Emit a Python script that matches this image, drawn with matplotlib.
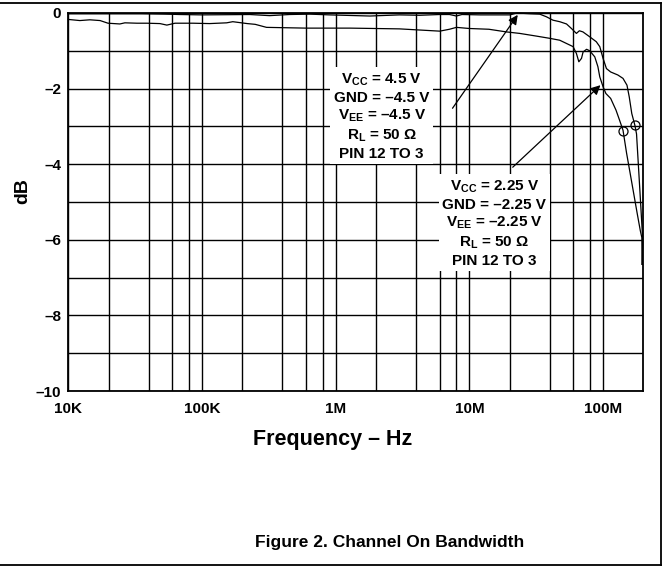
import matplotlib
matplotlib.use("Agg")
import matplotlib.pyplot as plt
from matplotlib.ticker import FixedLocator, MultipleLocator, NullFormatter
from matplotlib.lines import Line2D

# ---------------- data ----------------
freq_45 = [1e4, 2e4, 3.5e4, 5.3e4, 6.8e4, 1e5, 2.28e5, 3.2e5, 4.52e5, 6.38e5, 9e5,
           1.8e6, 3e6, 4.26e6, 6e6, 7.1e6, 8e6, 8.8e6, 1.21e7, 2.01e7, 2.27e7,
           2.85e7, 3.36e7, 3.77e7, 4.22e7, 4.74e7, 5.33e7, 5.8e7, 6.32e7, 6.65e7,
           7.07e7, 7.95e7, 8.9e7, 9.45e7, 1e8, 1.06e8, 1.14e8, 1.29e8, 1.41e8,
           1.51e8, 1.57e8, 1.64e8, 1.73e8, 1.78e8, 1.85e8, 1.92e8, 1.98e8, 1.96e8]
db_45 = [-0.02, -0.02, -0.02, -0.03, -0.04, -0.05, -0.04, -0.07, -0.04, -0.03, -0.05,
         -0.08, -0.05, -0.06, -0.04, -0.04, -0.08, -0.04, -0.05, -0.05, 0.0,
         -0.02, -0.03, -0.1, -0.19, -0.23, -0.29, -0.41, -0.54, -0.47,
         -0.5, -0.63, -0.76, -0.89, -1.2, -1.47, -1.56, -1.64, -1.73,
         -1.91, -2.22, -2.66, -2.97, -3.2, -4.2, -5.17, -6.0, -6.65]

freq_225 = [1e4, 1.22e4, 1.45e4, 1.73e4, 1.98e4, 2.43e4, 2.65e4, 3.26e4, 3.88e4,
            4.85e4, 5.46e4, 6.28e4, 8.56e4, 1.14e5, 1.53e5, 1.7e5, 2.18e5, 2.5e5,
            3.04e5, 6e5, 1.28e6, 3e6, 6e6, 7.1e6, 8e6, 1e7, 1.4e7, 1.89e7, 2.38e7,
            3.16e7, 3.99e7, 4.74e7, 5.97e7, 6.32e7, 6.59e7, 6.9e7, 7.09e7, 7.53e7,
            7.95e7, 8.67e7, 9.15e7, 9.45e7, 1e8, 1.05e8, 1.14e8, 1.25e8, 1.33e8,
            1.41e8, 1.5e8, 1.6e8, 1.7e8, 1.8e8, 1.9e8, 1.95e8, 1.96e8]
db_225 = [-0.17, -0.2, -0.18, -0.2, -0.27, -0.29, -0.26, -0.27, -0.27,
          -0.28, -0.32, -0.27, -0.27, -0.28, -0.26, -0.23, -0.28, -0.3,
          -0.38, -0.4, -0.4, -0.42, -0.48, -0.43, -0.38, -0.41, -0.43, -0.5, -0.54,
          -0.61, -0.67, -0.72, -0.89, -1.07, -1.29, -1.2, -1.03, -0.96,
          -1.0, -1.16, -1.42, -1.69, -1.95, -2.13, -2.26, -2.57, -2.84,
          -3.1, -3.71, -4.27, -4.8, -5.3, -5.76, -5.94, -6.65]

# small circle markers on the curves
marker_freq = [1.73e8, 1.41e8]
marker_db = [-2.97, -3.12]

x_ticks = [1e4, 1e5, 1e6, 1e7, 1e8]
x_tick_labels = ["10K", "100K", "1M", "10M", "100M"]
y_ticks = [0, -2, -4, -6, -8, -10]
y_tick_labels = ["0", "\u20132", "\u20134", "\u20136", "\u20138", "\u201310"]

label_45 = ("V$_{\\mathrm{CC}}$ = 4.5 V\nGND = \u20134.5 V\nV$_{\\mathrm{EE}}$ = \u20134.5 V\n"
            "R$_{\\mathrm{L}}$ = 50 \u03a9\nPIN 12 TO 3")
label_225 = ("V$_{\\mathrm{CC}}$ = 2.25 V\nGND = \u20132.25 V\nV$_{\\mathrm{EE}}$ = \u20132.25 V\n"
             "R$_{\\mathrm{L}}$ = 50 \u03a9\nPIN 12 TO 3")
label_45_pos = (2.21e6, -2.73)
label_225_pos = (1.54e7, -5.56)
arrow_45 = ((7.48e6, -2.52), (2.3e7, -0.05))
arrow_225 = ((2.11e7, -4.08), (9.56e7, -1.91))

x_label = "Frequency \u2013 Hz"
y_label = "dB"
caption = "Figure 2. Channel On Bandwidth"

# ---------------- style ----------------
plt.rcParams["font.family"] = ["Liberation Sans", "DejaVu Sans"]
plt.rcParams["font.weight"] = "bold"
plt.rcParams["mathtext.fontset"] = "custom"
plt.rcParams["mathtext.rm"] = "Liberation Sans:bold"
plt.rcParams["mathtext.bf"] = "Liberation Sans:bold"
plt.rcParams["mathtext.it"] = "Liberation Sans:bold"

W, H = 669, 571
fig = plt.figure(figsize=(W / 100, H / 100), dpi=100)
ax = fig.add_axes([68.3 / W, 1 - 391 / H, (643.3 - 68.3) / W, (391 - 13) / H])

ax.set_xscale("log")
ax.set_xlim(1e4, 2e8)
ax.set_ylim(-10, 0)

ax.xaxis.set_major_locator(FixedLocator(x_ticks))
ax.set_xticklabels(x_tick_labels)
ax.xaxis.set_minor_locator(FixedLocator(
    [m * d for d in x_ticks for m in (2, 4, 6, 8) if m * d < 2e8]))
ax.xaxis.set_minor_formatter(NullFormatter())
ax.set_yticks(y_ticks)
ax.set_yticklabels(y_tick_labels)
ax.yaxis.set_minor_locator(MultipleLocator(1))

ax.tick_params(which="both", length=0)
ax.tick_params(axis="x", pad=8, labelsize=11)
ax.tick_params(axis="y", pad=5, labelsize=11)
for lab in ax.get_xticklabels() + ax.get_yticklabels():
    lab.set_fontweight("bold")

ax.grid(True, which="both", color="black", lw=1.0, zorder=0)
ax.set_axisbelow(True)
for s in ax.spines.values():
    s.set_linewidth(1.3)

ax.plot(freq_45, db_45, color="black", lw=0.9, zorder=2, clip_on=False)
ax.plot(freq_225, db_225, color="black", lw=0.9, zorder=2, clip_on=False)
ax.plot(marker_freq, marker_db, linestyle="none", marker="o", ms=6.5,
        mfc="none", mec="black", mew=0.9, zorder=3)

for txt, pos in ((label_45, label_45_pos), (label_225, label_225_pos)):
    ax.text(pos[0], pos[1], txt, ha="center", va="center", multialignment="center",
            fontsize=11, fontweight="bold", linespacing=1.25, zorder=4,
            bbox=dict(boxstyle="square,pad=0.25", fc="white", ec="none"))

for (start, end) in (arrow_45, arrow_225):
    ax.annotate("", xy=end, xytext=start, zorder=5,
                arrowprops=dict(arrowstyle="-|>", color="black", lw=0.9,
                                mutation_scale=14, shrinkA=0, shrinkB=0))

ax.set_xlabel(x_label, fontsize=15.5, fontweight="bold")
ax.xaxis.set_label_coords(0.46, -0.1)
ax.xaxis.label.set_va("top")
ax.set_ylabel(y_label, fontsize=14, fontweight="bold")
ax.yaxis.set_label_coords(-0.065, 0.53)

fig.text(390 / W, 1 - 543 / H, caption, ha="center", va="center",
         fontsize=12.5, fontweight="bold")

# figure frame (top, bottom, right)
fig.add_artist(Line2D([0, 661 / W], [1 - 3 / H, 1 - 3 / H], color="black", lw=1.3))
fig.add_artist(Line2D([0, 661 / W], [1 - 565 / H, 1 - 565 / H], color="black", lw=1.3))
fig.add_artist(Line2D([661 / W, 661 / W], [1 - 3 / H, 1 - 565 / H], color="black", lw=1.3))

fig.savefig("out.png", dpi=100)
